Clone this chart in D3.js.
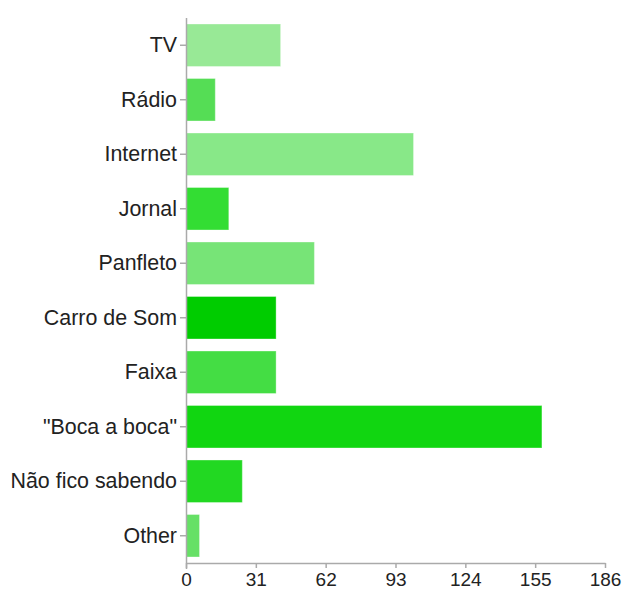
<!DOCTYPE html>
<html>
<head>
    <meta charset="utf-8">
    <title></title>
    <script src="https://d3js.org/d3.v7.min.js"></script>
    <style type="text/css">
        html, body {
            margin: 0;
            padding: 0;
            background: #fff;
        }
        text {
            font-family: "Liberation Sans", Arial, Helvetica, sans-serif;
            fill: #222;
        }
    </style>
</head>
<body>

    <svg id="main"></svg>

    <script>
      // data
      const categories = ["TV", "Rádio", "Internet", "Jornal", "Panfleto", "Carro de Som",
                          "Faixa", "\"Boca a boca\"", "Não fico sabendo", "Other"];
      const values     = [42, 13, 101, 19, 57, 40, 40, 158, 25, 6];
      const barColors  = ["#98e996", "#55dd55", "#88e888", "#33dd33", "#77e477",
                          "#00cc00", "#44dd44", "#11d611", "#22d822", "#66e066"];
      const xTicks     = [0, 31, 62, 93, 124, 155, 186];

      // settings
      const width  = 629;
      const height = 589;
      const margin = {top: 18, right: 24, bottom: 26, left: 186};

      const svg = d3.select("#main")
        .attr("width", width)
        .attr("height", height);

      const x = d3.scaleLinear()
        .domain([0, 186])
        .range([margin.left, width - margin.right]);

      const y = d3.scaleBand()
        .domain(categories)
        .range([margin.top, height - margin.bottom])
        .paddingInner(0.22)
        .paddingOuter(0.11);

      // bars
      svg.append("g")
        .selectAll("rect")
        .data(values)
        .enter()
        .append("rect")
        .attr("x", x(0))
        .attr("y", (d, i) => y(categories[i]))
        .attr("width", d => x(d) - x(0))
        .attr("height", y.bandwidth())
        .attr("fill", (d, i) => barColors[i])
        .attr("stroke", "#ffffff")
        .attr("stroke-opacity", 0.35)
        .attr("stroke-width", 1);

      // y axis
      const yAxis = svg.append("g")
        .attr("transform", `translate(${margin.left},0)`)
        .call(d3.axisLeft(y).tickSize(6).tickPadding(3).tickSizeOuter(0));
      yAxis.selectAll("text").style("font-size", "21.4px");
      yAxis.select(".domain").attr("d", `M0.5,${margin.top}V${height - margin.bottom + 6}`);

      // x axis
      const xAxis = svg.append("g")
        .attr("transform", `translate(0,${height - margin.bottom})`)
        .call(d3.axisBottom(x).tickValues(xTicks).tickSize(5).tickPadding(5).tickSizeOuter(0));
      xAxis.selectAll("text").style("font-size", "19px");

      svg.selectAll(".domain, .tick line")
        .attr("stroke", "#aaa")
        .attr("stroke-width", 1.5);
    </script>

</body>
</html>
